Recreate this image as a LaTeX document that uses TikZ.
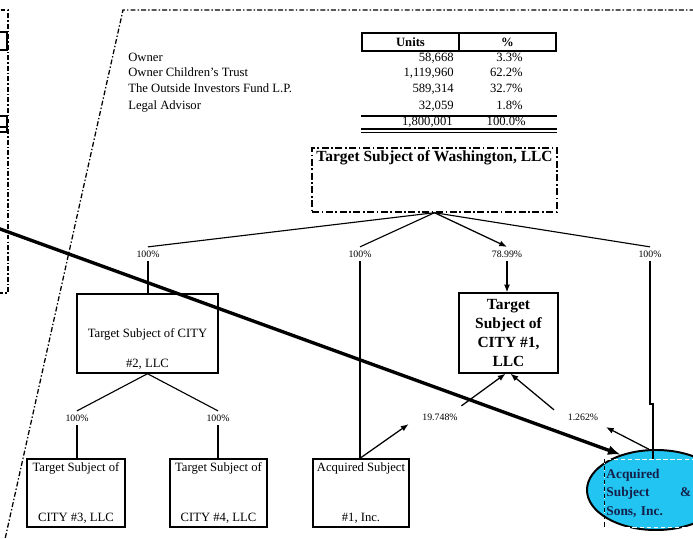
\documentclass[tikz,border=0pt]{standalone}
\usepackage{fontspec}
\setmainfont{Liberation Serif}
\usetikzlibrary{arrows.meta,calc,positioning,shapes.geometric}
\definecolor{sonscyan}{HTML}{22C4F2}
\definecolor{sonsink}{HTML}{14204A}
\tikzset{
  panel/.style={line width=0.9pt,dash pattern=on 3.5pt off 1.5pt on 1pt off 1.5pt},
  washbox/.style={draw,line width=1pt,dash pattern=on 5pt off 1.8pt on 1.2pt off 1.8pt,minimum width=6.125cm,minimum height=1.6cm,inner sep=0pt},
  washtitle/.style={font=\fontsize{11}{13}\selectfont\bfseries,inner sep=2pt},
  citybox/.style={draw,line width=1pt,align=center,inner sep=1pt,font=\fontsize{9}{10.5}\selectfont},
  boldbox/.style={draw,line width=1pt,align=center,inner sep=1pt,font=\fontsize{11}{13.5}\selectfont\bfseries},
  pct/.style={font=\fontsize{7}{8}\selectfont,inner sep=2.5pt},
  holder/.style={anchor=base west,inner sep=0pt,font=\fontsize{9}{10.5}\selectfont},
  units/.style={anchor=base east,inner sep=0pt,font=\fontsize{9}{10.5}\selectfont},
  hdrcell/.style={draw,line width=1.1pt,minimum width=2.425cm,minimum height=0.45cm,inner sep=0pt,font=\fontsize{9}{10.5}\selectfont\bfseries},
  owns/.style={line width=0.8pt},
  ownsto/.style={line width=0.9pt,-{Latex[length=5.5pt,width=4.3pt]}},
  feed/.style={line width=2.4pt,-{Latex[length=9pt,width=7pt]}}
}

\begin{document}
\begin{tikzpicture}[x=0.025cm,y=-0.025cm]
  \useasboundingbox (0,0) rectangle (693,539);
  % panel outlines
  \draw[panel] (-10,10) -- (8,10) -- (8,293) -- (-10,293);
  \draw[line width=1pt] (-10,32) -- (7,32) -- (7,50) -- (-10,50);
  \draw[line width=1pt] (-10,116) -- (7,116) -- (7,132);
  \draw[line width=0.8pt] (-10,127) -- (7,127);
  \draw[line width=0.8pt] (-10,132) -- (7,132);
  \draw[panel] (705,10) -- (123,10) -- (3.7,545);

  % unit holders
  \node[hdrcell] (unitshdr) at (410.5,42) {Units};
  \node[hdrcell] (pcthdr) at (507.5,42) {\%};
  \node[holder] (owner) at (128,61) {Owner};
  \node[holder] (trust) at (128,76.5) {Owner Children's Trust};
  \node[holder] (fund) at (128,92) {The Outside Investors Fund L.P.};
  \node[holder] (advisor) at (128,109.5) {Legal Advisor};
  \node[units] (u1) at (454,61) {58,668};
  \node[units] (u2) at (454,76.5) {1,119,960};
  \node[units] (u3) at (454,92) {589,314};
  \node[units] (u4) at (454,109.5) {32,059};
  \node[units] (utot) at (453,125) {1,800,001};
  \node[units] (s1) at (523,61) {3.3\%};
  \node[units] (s2) at (523,76.5) {62.2\%};
  \node[units] (s3) at (523,92) {32.7\%};
  \node[units] (s4) at (523,109.5) {1.8\%};
  \node[units] (stot) at (526,125) {100.0\%};
  \draw[line width=1.4pt] (unitshdr.west |- 0,116) -- (pcthdr.east |- 0,116);
  \draw[line width=0.9pt] (unitshdr.west |- 0,129) -- (pcthdr.east |- 0,129);
  \draw[line width=0.9pt] (unitshdr.west |- 0,132.5) -- (pcthdr.east |- 0,132.5);

  % entities
  \node[washbox,label={[washtitle,anchor=north]north:{Target Subject of Washington, LLC}}] (wash) at (434.5,180) {};
  \node[citybox,minimum width=3.525cm,minimum height=1.975cm] (city2) at (147.5,333.5) {\strut\\[0.38cm]Target Subject of CITY\\[0.38cm]\#2, LLC};
  \node[boldbox,minimum width=2.475cm,minimum height=2cm] (city1) at (508.5,333) {Target\\Subject of\\CITY \#1,\\LLC};
  \node[citybox,minimum width=2.45cm,minimum height=1.7cm] (city3) at (76,493) {Target Subject of\\[0.88cm]CITY \#3, LLC};
  \node[citybox,minimum width=2.425cm,minimum height=1.7cm] (city4) at (218.5,493) {Target Subject of\\[0.88cm]CITY \#4, LLC};
  \node[citybox,minimum width=2.4cm,minimum height=1.7cm] (acq1) at (361,493) {Acquired Subject\\[0.88cm]\#1, Inc.};
  \node[ellipse,draw,line width=1.4pt,fill=sonscyan,minimum width=3.45cm,minimum height=2cm,inner sep=0pt] (acqsons) at (656,490) {};
  \node[anchor=north west,draw=white,densely dashed,line width=0.5pt,text width=2.12cm,minimum height=1.7cm,inner sep=1.5pt,align=left,text=sonsink,font=\fontsize{9.5}{13}\selectfont\bfseries] (acqname) at (604,459) {Acquired\\Subject\hfill\&\\Sons, Inc.};
  \draw[densely dashed,line width=0.7pt] (acqname.north west) -- (acqname.south west);

  % ownership labels
  \node[pct] (pA) at (148,254) {100\%};
  \node[pct] (pB) at (360,254) {100\%};
  \node[pct] (pC) at (507,254) {78.99\%};
  \node[pct] (pD) at (650,254) {100\%};
  \node[pct] (pE) at (77,418) {100\%};
  \node[pct] (pF) at (218,418) {100\%};
  \node[pct] (pG) at (440,417) {19.748\%};
  \node[pct] (pH) at (583,417) {1.262\%};
  \coordinate (jog) at (653,404);
  \coordinate (leftfeed) at (-4,227.5);

  \draw[owns] (wash.south) -- (pA.north);
  \draw[owns] (wash.south) -- (pB.north);
  \draw[ownsto] (wash.south) -- (pC.north);
  \draw[owns] (wash.south) -- (pD.north);
  \draw[owns] (pA.south) -- (pA.south |- city2.north);
  \draw[owns] (pB.south) -- (pB.south |- acq1.north);
  \draw[ownsto] (pC.south) -- (pC.south |- city1.north);
  \draw[owns] (pD.south) -- (pD.south |- jog) -- (jog) -- (jog |- acqname.north);
  \draw[owns] (city2.south) -- (pE.north);
  \draw[owns] (city2.south) -- (pF.north);
  \draw[owns] (pE.south) -- (pE.south |- city3.north);
  \draw[owns] (pF.south) -- (pF.south |- city4.north);
  \draw[ownsto] (pB.south |- acq1.north) -- ($(pG.south west)+(-10,0)$);
  \draw[ownsto] ($(pG.north east)+(0,-4)$) -- ($(city1.south)+(-3,0)$);
  \draw[ownsto] ($(pH.north west)+(-10,0)$) -- ($(city1.south)+(2,0)$);
  \draw[ownsto] (acqsons.100) -- ($(pH.south east)+(4,3)$);
  \draw[feed] (leftfeed) -- (acqsons.135);
\end{tikzpicture}
\end{document}
